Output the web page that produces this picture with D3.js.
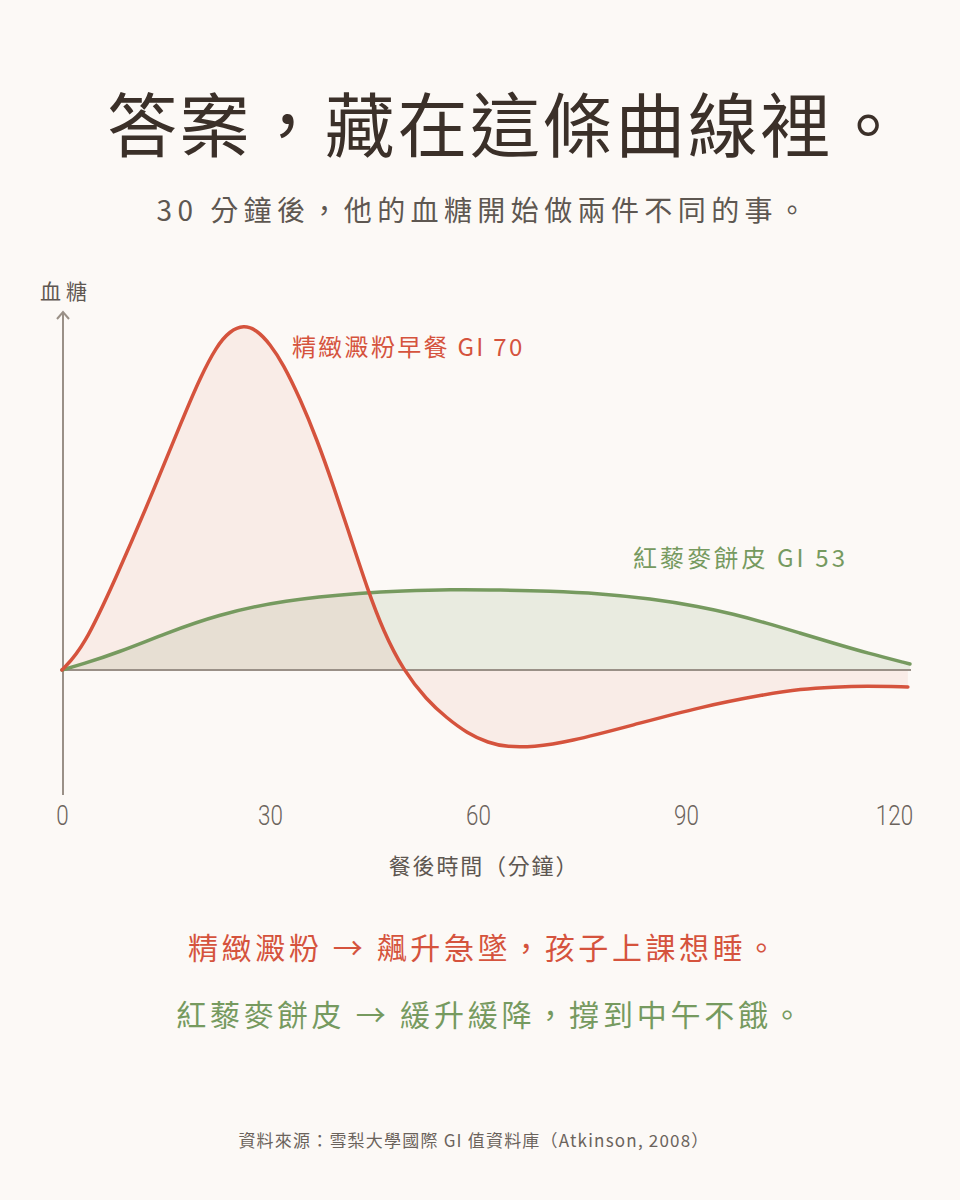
<!DOCTYPE html>
<html><head><meta charset="utf-8">
<script src="https://cdn.jsdelivr.net/npm/d3@7/dist/d3.min.js"></script>
<style>
html,body{margin:0;padding:0;background:#fcf9f6;}
svg{display:block;}
</style></head>
<body>
<svg id="c" width="960" height="1200"></svg>
<script>
// ---- data ----
const refinedTimes  = [0, 3.1, 7.9, 12.7, 17.5, 19.9, 22.3, 24.2, 26.2, 28.1, 30, 31.9, 34.3, 36.8, 39.1, 41.6, 44, 46.4, 49.2, 52.6, 55.5, 58.4, 61.5, 64.2, 68, 73, 82.4, 92, 101.7, 106.5, 111.3, 116, 122];
const refinedValues = [0, 22, 94, 171, 253, 292, 324, 339, 345, 340, 326, 306, 272, 230, 185, 133, 82, 38, 0, -30, -48, -63, -73, -77, -77, -72, -55, -37, -24, -19, -17, -16, -17];
const quinoaTimes   = [0, 3, 7.9, 15.1, 22.3, 31.9, 44, 48.8, 56, 63.2, 70.4, 77.6, 84.8, 92, 96.8, 101.6, 106.4, 111.2, 116.1, 122.3];
const quinoaValues  = [0, 6, 17, 37, 55, 70, 77.5, 79, 80.5, 80, 79, 76.5, 71.5, 63.5, 56, 47, 37, 27, 17, 6];
const xTicks = [0, 30, 60, 90, 120];
const titleText = "答案，藏在這條曲線裡。";
const subtitleText = "30 分鐘後，他的血糖開始做兩件不同的事。";
const yLabel = "血糖";
const xLabel = "餐後時間（分鐘）";
const refinedLabel = "精緻澱粉早餐 GI 70";
const quinoaLabel = "紅藜麥餅皮 GI 53";
const noteRefined = "精緻澱粉 → 飆升急墜，孩子上課想睡。";
const noteQuinoa = "紅藜麥餅皮 → 緩升緩降，撐到中午不餓。";
const sourceText = "資料來源：雪梨大學國際 GI 值資料庫（Atkinson, 2008）";

const RED = "#d5533d", GREEN = "#769a5f", AXIS = "#9a9087", GREY = "#5e5751";
const CJK = "'Noto Sans CJK TC','Noto Sans CJK SC',sans-serif";

const svg = d3.select("#c");
svg.append("rect").attr("width",960).attr("height",1200).attr("fill","#fcf9f6");

const x = d3.scaleLinear().domain([0,120]).range([62,894]);
const y = d3.scaleLinear().domain([-125,360]).range([795,310]);

const refined = refinedTimes.map((t,i)=>({t, v: refinedValues[i]}));
const quinoa = quinoaTimes.map((t,i)=>({t, v: quinoaValues[i]}));

// titles
svg.append("text").attr("x",107).attr("y",152)
  .attr("font-family",CJK).attr("font-size",70).attr("font-weight",400)
  .attr("letter-spacing",2.6).attr("fill","#3b3029").text(titleText);
svg.append("text").attr("x",484).attr("y",221).attr("text-anchor","middle")
  .attr("font-family",CJK).attr("font-size",28).attr("letter-spacing",5.4)
  .attr("fill",GREY).text(subtitleText);

// areas
const curve = d3.curveBasis;
const area = d3.area().x(d=>x(d.t)).y0(y(0)).y1(d=>y(d.v)).curve(curve);
const line = d3.line().x(d=>x(d.t)).y(d=>y(d.v)).curve(curve);

svg.append("path").datum(quinoa).attr("d",area).attr("fill",GREEN).attr("fill-opacity",0.14);
svg.append("path").datum(refined).attr("d",area).attr("fill",RED).attr("fill-opacity",0.08);

// axes lines
svg.append("line").attr("x1",x(0)).attr("x2",911).attr("y1",y(0)).attr("y2",y(0))
  .attr("stroke",AXIS).attr("stroke-width",2);
svg.append("line").attr("x1",x(0)+1).attr("x2",x(0)+1).attr("y1",312).attr("y2",795)
  .attr("stroke",AXIS).attr("stroke-width",2);
svg.append("path").attr("d",`M${x(0)+1-6},${319} L${x(0)+1},${312} L${x(0)+1+6},${319}`)
  .attr("fill","none").attr("stroke",AXIS).attr("stroke-width",2);

// lines
svg.append("path").datum(quinoa).attr("d",line).attr("fill","none")
  .attr("stroke",GREEN).attr("stroke-width",3.5).attr("stroke-linecap","round");
svg.append("path").datum(refined).attr("d",line).attr("fill","none")
  .attr("stroke",RED).attr("stroke-width",3.5).attr("stroke-linecap","round");

// y label
svg.append("text").attr("x",40).attr("y",299).attr("font-family",CJK)
  .attr("font-size",21).attr("letter-spacing",5).attr("fill",GREY).text(yLabel);

// x axis ticks
const xa = svg.append("g").attr("transform",`translate(0,${y(0)})`)
  .call(d3.axisBottom(x).tickValues(xTicks).tickSize(0).tickPadding(135).tickFormat(d3.format("d")));
xa.select(".domain").remove();
xa.selectAll("text").attr("font-family","Roboto,sans-serif").attr("font-weight",300)
  .attr("font-size",28).attr("fill","#6b635c").attr("transform","scale(0.8,1)");

svg.append("text").attr("x",484).attr("y",874).attr("text-anchor","middle")
  .attr("font-family",CJK).attr("font-size",22).attr("letter-spacing",1.8)
  .attr("fill",GREY).text(xLabel);

// series labels
svg.append("text").attr("x",292).attr("y",356).attr("font-family",CJK)
  .attr("font-size",24).attr("letter-spacing",2.3).attr("fill",RED).text(refinedLabel);
svg.append("text").attr("x",633).attr("y",567).attr("font-family",CJK)
  .attr("font-size",24).attr("letter-spacing",3.1).attr("fill",GREEN).text(quinoaLabel);

// notes
svg.append("text").attr("x",484).attr("y",959).attr("text-anchor","middle")
  .attr("font-family",CJK).attr("font-size",30).attr("letter-spacing",3.6)
  .attr("fill",RED).text(noteRefined);
svg.append("text").attr("x",491).attr("y",1026).attr("text-anchor","middle")
  .attr("font-family",CJK).attr("font-size",30).attr("letter-spacing",3.8)
  .attr("fill",GREEN).text(noteQuinoa);

svg.append("text").attr("x",474).attr("y",1147).attr("text-anchor","middle")
  .attr("font-family",CJK).attr("font-size",17).attr("letter-spacing",1.2)
  .attr("fill","#6b635c").text(sourceText);
</script>
</body></html>
